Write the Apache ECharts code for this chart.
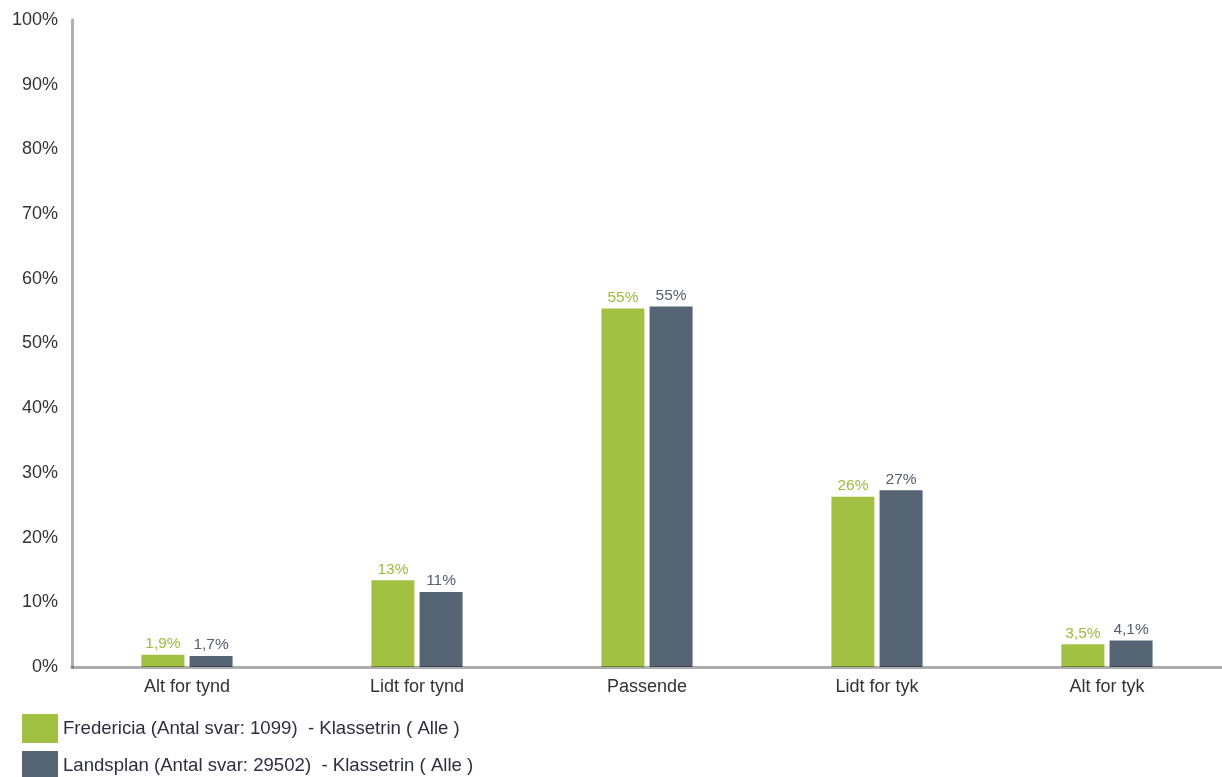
<!DOCTYPE html>
<html><head><meta charset="utf-8">
<script src="https://cdn.jsdelivr.net/npm/echarts@6/dist/echarts.min.js"></script>
<style>html,body{margin:0;padding:0;background:#fff}#c{width:1222px;height:777px}</style>
</head><body><div id="c"></div>
<script>
const categories = ['Alt for tynd', 'Lidt for tynd', 'Passende', 'Lidt for tyk', 'Alt for tyk'];
const seriesNames = ['Fredericia (Antal svar: 1099)  - Klassetrin ( Alle )', 'Landsplan (Antal svar: 29502)  - Klassetrin ( Alle )'];
const fredericia = [1.9, 13.4, 55.4, 26.3, 3.5];
const landsplan = [1.7, 11.6, 55.7, 27.3, 4.1];
const fredericiaLabels = ['1,9%', '13%', '55%', '26%', '3,5%'];
const landsplanLabels = ['1,7%', '11%', '55%', '27%', '4,1%'];
const yTicks = [0, 10, 20, 30, 40, 50, 60, 70, 80, 90, 100];

const font = 'Liberation Sans, Arial, sans-serif';
const chart = echarts.init(document.getElementById('c'));
chart.setOption({
  animation: false,
  textStyle: { fontFamily: font },
  grid: { left: 72, right: 0, top: 20, bottom: 110, containLabel: false },
  legend: {
    orient: 'vertical', left: 22, top: 714, height: 120, padding: 0,
    itemWidth: 36, itemHeight: 29, itemGap: 8,
    icon: 'rect',
    textStyle: { fontSize: 18.6, color: '#2d2e40', fontFamily: font },
    data: seriesNames
  },
  xAxis: {
    type: 'category', data: categories, z: 5,
    axisLine: { lineStyle: { color: 'rgba(0,0,0,0.32)', width: 3 } },
    axisTick: { show: false },
    axisLabel: { fontSize: 18, color: '#333', margin: 11, fontFamily: font }
  },
  yAxis: {
    type: 'value', min: 0, max: 100, interval: 10,
    axisLine: { show: true, lineStyle: { color: '#b0b0b0', width: 3 } },
    axisTick: { show: false },
    splitLine: { show: false },
    axisLabel: { fontSize: 18, color: '#333', margin: 14, fontFamily: font,
      formatter: v => yTicks.includes(v) ? v + '%' : '' }
  },
  series: [
    {
      name: seriesNames[0], type: 'bar', data: fredericia, barWidth: 43, barGap: '12%',
      itemStyle: { color: '#a2c142' },
      label: { show: true, position: 'top', distance: 3, fontSize: 15.5, color: '#9dbb3d', fontFamily: font,
        formatter: p => fredericiaLabels[p.dataIndex] }
    },
    {
      name: seriesNames[1], type: 'bar', data: landsplan, barWidth: 43, barGap: '12%',
      itemStyle: { color: '#556574' },
      label: { show: true, position: 'top', distance: 3, fontSize: 15.5, color: '#556270', fontFamily: font,
        formatter: p => landsplanLabels[p.dataIndex] }
    }
  ]
});
</script></body></html>
